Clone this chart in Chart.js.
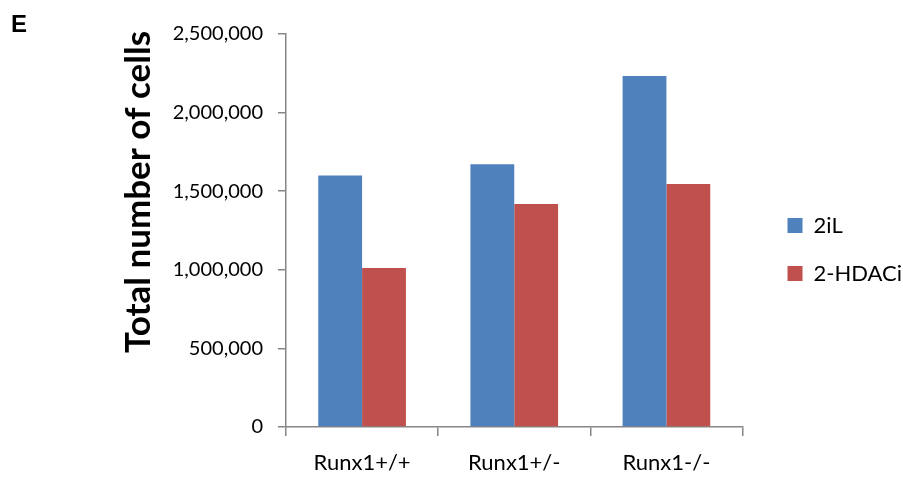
<!DOCTYPE html>
<html>
<head>
<meta charset="utf-8">
<script src="https://cdn.jsdelivr.net/npm/chart.js@4.4.0/dist/chart.umd.min.js"></script>
<style>
    html, body { margin: 0; padding: 0; background: #fff; }
    #wrap { position: relative; width: 903px; height: 481px; }
    #panel { position: absolute; left: 11px; top: 10px; line-height: 1; font: bold 24px "Liberation Sans", Arial, sans-serif; color: #000; }
</style>
</head>
<body>
<div id="wrap">
    <canvas id="chart" width="903" height="481"></canvas>
    <div id="panel">E</div>
</div>
<script>
// Data
const categories = ["Runx1+/+", "Runx1+/-", "Runx1-/-"];
const seriesNames = ["2iL", "2-HDACi"];
const values2iL = [1600000, 1672000, 2233000];
const valuesHDACi = [1012000, 1419000, 1546000];
const yTicks = [0, 500000, 1000000, 1500000, 2000000, 2500000];
const yTitle = "Total number of cells";

const COLORS = { blue: "#4F81BD", red: "#C0504D", axis: "#868686", text: "#000000" };
const FONT = "Lato, 'Liberation Sans', sans-serif";

// Excel places the axis title a bit above the plot centre and the legend further right
const excelLayout = {
    id: "excelLayout",
    afterLayout(chart) {
        const lg = chart.legend;
        lg.left += 19; lg.right += 19;
        lg.top -= 8; lg.bottom -= 8;
    },
    afterDraw(chart) {
        const c = chart.ctx;
        c.save();
        c.translate(139, 192);
        c.rotate(-Math.PI / 2);
        c.font = "bold 35px " + FONT;
        c.fillStyle = COLORS.text;
        c.textAlign = "center";
        c.textBaseline = "middle";
        c.fillText(yTitle, 0, 0);
        c.restore();
    },
};

const ctx = document.getElementById("chart");
new Chart(ctx, {
    type: "bar",
    data: {
        labels: categories,
        datasets: [
            { label: seriesNames[0], data: values2iL, backgroundColor: COLORS.blue, categoryPercentage: 0.576, barPercentage: 1 },
            { label: seriesNames[1], data: valuesHDACi, backgroundColor: COLORS.red, categoryPercentage: 0.576, barPercentage: 1 },
        ],
    },
    plugins: [excelLayout],
    options: {
        responsive: false,
        animation: false,
        layout: { padding: { left: 118, top: 34, right: 10, bottom: 0 } },
        plugins: {
            legend: {
                position: "right",
                labels: {
                    color: COLORS.text,
                    font: { family: FONT, size: 22 },
                    boxWidth: 15,
                    boxHeight: 15,
                    padding: 26,
                },
            },
            tooltip: { enabled: false },
        },
        scales: {
            x: {
                afterFit: (axis) => { axis.height = 54; },
                grid: { drawOnChartArea: false, offset: true, color: COLORS.axis, tickLength: 9, lineWidth: 1.5 },
                border: { color: COLORS.axis, width: 1.5 },
                ticks: { color: COLORS.text, font: { family: FONT, size: 22 }, padding: 14 },
            },
            y: {
                min: 0,
                max: 2500000,
                afterBuildTicks: (axis) => { axis.ticks = yTicks.map(v => ({ value: v })); },
                afterFit: (axis) => { axis.width = 168; },
                grid: { drawOnChartArea: false, color: COLORS.axis, tickLength: 8, lineWidth: 1.5 },
                border: { color: COLORS.axis, width: 1.5 },
                ticks: {
                    color: COLORS.text,
                    font: { family: FONT, size: 20 },
                    padding: 15,
                    callback: (v) => v.toLocaleString("en-US"),
                },
            },
        },
    },
});
</script>
</body>
</html>
